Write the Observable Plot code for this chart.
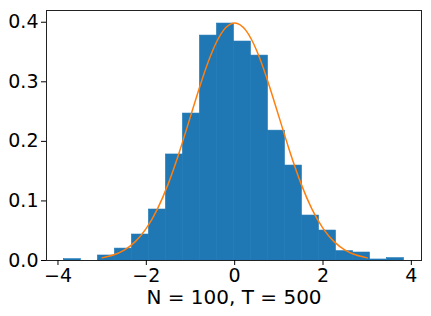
<!DOCTYPE html>
<html>
<head>
<meta charset="utf-8">
<script src="https://cdn.jsdelivr.net/npm/d3@7"></script>
<script src="https://cdn.jsdelivr.net/npm/@observablehq/plot@0.6"></script>
<style>
  html, body { margin: 0; padding: 0; background: #fff; }
  #chart { width: 431px; height: 316px; }
</style>
</head>
<body>
<div id="chart"></div>
<script>
const binEdges = [-3.866, -3.481, -3.096, -2.711, -2.326, -1.941, -1.556, -1.171, -0.786, -0.401,
                  -0.016, 0.369, 0.754, 1.139, 1.524, 1.909, 2.294, 2.679, 3.064, 3.449, 3.834];
const density = [0.0022, 0, 0.0084, 0.020, 0.0436, 0.0856, 0.178, 0.2467, 0.3776, 0.3978,
                 0.3676, 0.344, 0.218, 0.1594, 0.0755, 0.0503, 0.0157, 0.0134, 0.0017, 0.0039];
const curveX = [-3, -2.75, -2.5, -2.25, -2, -1.75, -1.5, -1.25, -1, -0.75, -0.5, -0.25, 0,
                0.25, 0.5, 0.75, 1, 1.25, 1.5, 1.75, 2, 2.25, 2.5, 2.75, 3];
const curveY = [0.0044, 0.0091, 0.0175, 0.0317, 0.054, 0.0863, 0.1295, 0.1826, 0.242, 0.3011, 0.3521, 0.3867, 0.3989,
                0.3867, 0.3521, 0.3011, 0.242, 0.1826, 0.1295, 0.0863, 0.054, 0.0317, 0.0175, 0.0091, 0.0044];
const xTicks = [-4, -2, 0, 2, 4];
const yTicks = [0, 0.1, 0.2, 0.3, 0.4];
const xLabel = "N = 100, T = 500";

const bins = density.map((d, i) => ({x1: binEdges[i], x2: binEdges[i + 1], y: d}));
const curve = curveX.map((x, i) => ({x, y: curveY[i]}));

const chart = Plot.plot({
  width: 431,
  height: 316,
  marginLeft: 46,
  marginRight: 10,
  marginTop: 10,
  marginBottom: 56,
  style: {fontFamily: "DejaVu Sans", fontSize: "19px", color: "black", background: "white"},
  x: {domain: [-4.26, 4.23]},
  y: {domain: [0, 0.4197]},
  marks: [
    Plot.rectY(bins.filter(d => d.y > 0), {x1: "x1", x2: "x2", y: "y", fill: "#1f77b4", stroke: "#1f77b4", strokeWidth: 0.6, inset: 0}),
    Plot.line(curve, {x: "x", y: "y", stroke: "#ff7f0e", strokeWidth: 1.5, curve: "natural"}),
    Plot.frame({stroke: "#222", strokeWidth: 1}),
    Plot.axisX({ticks: xTicks, tickSize: 5, tickPadding: 3, label: null, fontSize: 19}),
    Plot.axisY({ticks: yTicks, tickSize: 5, tickPadding: 3, label: null, tickFormat: d3.format(".1f"), fontSize: 19}),
    Plot.text([xLabel], {frameAnchor: "bottom", dy: 37, text: d => d, fontSize: 20, fill: "black", lineAnchor: "middle"})
  ]
});
document.getElementById("chart").appendChild(chart);
</script>
</body>
</html>
